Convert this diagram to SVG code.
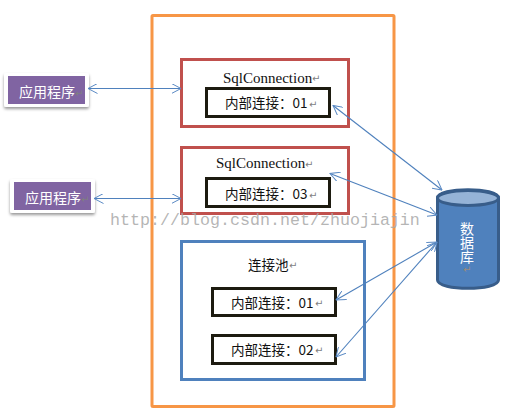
<svg xmlns="http://www.w3.org/2000/svg" width="512" height="418" viewBox="0 0 512 418">
<style>
.t{font-family:"Noto Sans CJK SC","Liberation Sans",sans-serif;font-size:13.500px;fill:#111}
.s{font-family:"Liberation Serif","Noto Sans CJK SC",serif;font-size:15px;fill:#111}
.r{fill:#7f7f7f;font-size:10px;font-family:"DejaVu Sans",sans-serif}
.red{fill:#fff;stroke:#c0504d;stroke-width:3}
.blk{fill:#fff;stroke:#1d1b10;stroke-width:3}
.app{fill:#8064a2}
.card{fill:#fff;filter:url(#sh)}
.w{font-family:"Noto Sans CJK SC",sans-serif;font-size:14px;fill:#fff}
.c{fill:none;stroke:#4f81bd;stroke-width:1.1;marker-start:url(#a);marker-end:url(#a)}
</style>
<defs>
<marker id="a" viewBox="0 0 10 10" refX="9.500" refY="5" markerWidth="10" markerHeight="10" markerUnits="userSpaceOnUse" orient="auto-start-reverse"><path d="M0 0L9.500 5L0 10" fill="none" stroke="#5b8ac4" stroke-width="1"/></marker>
<filter id="sh" x="-20%" y="-20%" width="140%" height="150%"><feDropShadow dx="0" dy="2" stdDeviation="1.500" flood-color="#000" flood-opacity=".4"/></filter>
</defs>
<rect id="outer" x="152" y="15.500" width="242" height="391" fill="#fff" stroke="#f79646" stroke-width="3" rx="1"/>
<g id="conn1">
<rect class="red" x="181.500" y="59.500" width="167" height="67"/>
<text class="s" x="223" y="83">SqlConnection</text><text class="r" x="312" y="82">↵</text>
<rect class="blk" x="206.500" y="88.500" width="123" height="28"/>
<text class="t" x="225" y="108">内部连接：01</text><text class="r" x="309" y="108">↵</text>
</g>
<g id="conn2">
<rect class="red" x="181.500" y="147.500" width="167" height="66"/>
<text class="s" x="216" y="168">SqlConnection</text><text class="r" x="305" y="168">↵</text>
<rect class="blk" x="206.500" y="178.500" width="123" height="28"/>
<text class="t" x="225" y="199">内部连接：03</text><text class="r" x="309" y="199">↵</text>
</g>
<g id="pool">
<rect x="181.500" y="241.500" width="183" height="138" fill="#fff" stroke="#4f81bd" stroke-width="3"/>
<text class="t" x="248" y="270">连接池</text><text class="r" x="289" y="269">↵</text>
<rect class="blk" x="212.500" y="288.500" width="123" height="27"/>
<text class="t" x="231" y="308">内部连接：01</text><text class="r" x="315" y="307">↵</text>
<rect class="blk" x="212.500" y="335.500" width="123" height="28"/>
<text class="t" x="231" y="355">内部连接：02</text><text class="r" x="315" y="354">↵</text>
</g>
<g id="app1">
<rect class="card" x="4" y="73" width="85" height="34" rx="2"/>
<rect class="app" x="8" y="76" width="77" height="28"/>
<text class="w" x="19" y="97">应用程序</text><text class="r" x="75" y="97">↵</text>
</g>
<g id="app2">
<rect class="card" x="10" y="179" width="85" height="34" rx="2"/>
<rect class="app" x="14" y="182" width="77" height="28"/>
<text class="w" x="25" y="203">应用程序</text><text class="r" x="81" y="203">↵</text>
</g>
<g id="db">
<path d="M437.500 198C437.500 187 498.500 187 498.500 198V280C498.500 291 437.500 291 437.500 280Z" fill="#4f81bd" stroke="#385d8a" stroke-width="3"/>
<ellipse cx="468" cy="198" rx="30.500" ry="7.500" fill="#95b3d7" stroke="#385d8a" stroke-width="3"/>
<text class="w" x="467" y="222" writing-mode="vertical-rl">数据库</text>
<text x="463" y="273" font-family="DejaVu Sans,sans-serif" font-size="10" fill="#9a8a7a">↵</text>
</g>
<g id="connectors">
<path class="c" d="M88 88.500H181"/>
<path class="c" d="M94 198.500H181"/>
<path class="c" d="M333 105.500L442 190"/>
<path class="c" d="M330 173.500L437 215"/>
<path class="c" d="M336 300L437 242"/>
<path class="c" d="M336 357L437 242"/>
</g>
<text id="watermark" x="110" y="225" font-family="Liberation Mono,monospace" font-size="16.670" fill="#a8a8a8" fill-opacity=".85">http://blog.csdn.net/zhuojiajin</text>
</svg>
